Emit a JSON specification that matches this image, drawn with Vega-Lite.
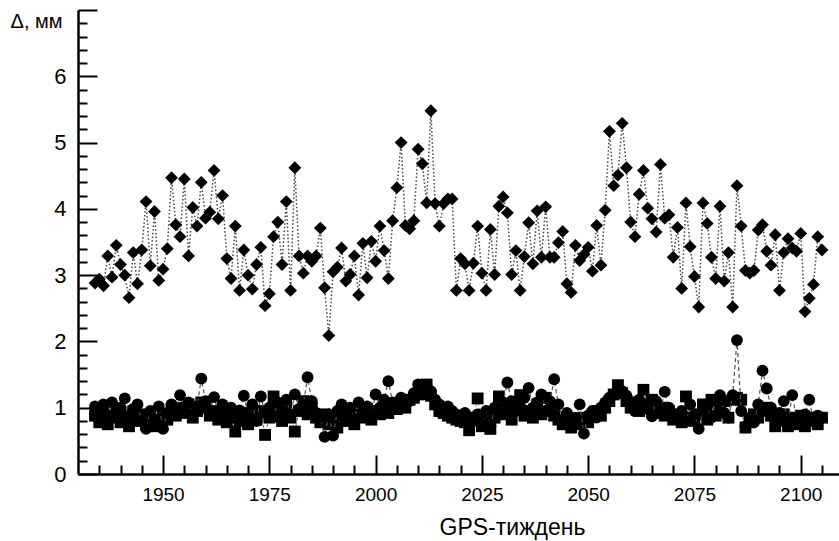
{
  "$schema": "https://vega.github.io/schema/vega-lite/v6.json",
  "width": 761,
  "height": 464,
  "autosize": "none",
  "padding": {"left": 78, "top": 10, "right": 0, "bottom": 67},
  "background": "white",
  "config": {"view": {"stroke": null}, "font": "Liberation Sans"},
  "datasets": {
    "d": [
      {"w":1934,"v":2.88},{"w":1935,"v":2.94},{"w":1936,"v":2.84},{"w":1937,"v":3.29},{"w":1938,"v":2.97},{"w":1939,"v":3.45},{"w":1940,"v":3.16},{"w":1941,"v":3.0},{"w":1942,"v":2.66},{"w":1943,"v":3.34},
      {"w":1944,"v":2.87},{"w":1945,"v":3.38},{"w":1946,"v":4.11},{"w":1947,"v":3.14},{"w":1948,"v":3.96},{"w":1949,"v":2.92},{"w":1950,"v":3.09},{"w":1951,"v":3.40},{"w":1952,"v":4.47},{"w":1953,"v":3.76},
      {"w":1954,"v":3.58},{"w":1955,"v":4.45},{"w":1956,"v":3.29},{"w":1957,"v":4.02},{"w":1958,"v":3.74},{"w":1959,"v":4.40},{"w":1960,"v":3.86},{"w":1961,"v":3.95},{"w":1962,"v":4.58},{"w":1963,"v":3.85},
      {"w":1964,"v":4.20},{"w":1965,"v":3.25},{"w":1966,"v":2.95},{"w":1967,"v":3.74},{"w":1968,"v":2.77},{"w":1969,"v":3.38},{"w":1970,"v":3.0},{"w":1971,"v":2.79},{"w":1972,"v":3.16},{"w":1973,"v":3.42},
      {"w":1974,"v":2.54},{"w":1975,"v":2.72},{"w":1976,"v":3.58},{"w":1977,"v":3.80},{"w":1978,"v":3.16},{"w":1979,"v":4.11},{"w":1980,"v":2.77},{"w":1981,"v":4.62},{"w":1982,"v":3.29},{"w":1983,"v":3.03},
      {"w":1984,"v":3.29},{"w":1985,"v":3.21},{"w":1986,"v":3.29},{"w":1987,"v":3.71},{"w":1988,"v":2.81},{"w":1989,"v":2.09},{"w":1990,"v":3.05},{"w":1991,"v":3.12},{"w":1992,"v":3.41},{"w":1993,"v":2.91},
      {"w":1994,"v":3.01},{"w":1995,"v":3.29},{"w":1996,"v":2.70},{"w":1997,"v":3.48},{"w":1998,"v":2.96},{"w":1999,"v":3.51},{"w":2000,"v":3.21},{"w":2001,"v":3.74},{"w":2002,"v":3.37},{"w":2003,"v":2.95},
      {"w":2004,"v":3.82},{"w":2005,"v":4.32},{"w":2006,"v":5.0},{"w":2007,"v":3.75},{"w":2008,"v":3.70},{"w":2009,"v":3.82},{"w":2010,"v":4.90},{"w":2011,"v":4.68},{"w":2012,"v":4.09},{"w":2013,"v":5.48},
      {"w":2014,"v":4.08},{"w":2015,"v":3.74},{"w":2016,"v":4.08},{"w":2017,"v":4.15},{"w":2018,"v":4.15},{"w":2019,"v":2.77},{"w":2020,"v":3.25},{"w":2021,"v":3.17},{"w":2022,"v":2.77},{"w":2023,"v":3.18},
      {"w":2024,"v":3.74},{"w":2025,"v":3.03},{"w":2026,"v":2.77},{"w":2027,"v":3.69},{"w":2028,"v":3.01},{"w":2029,"v":4.04},{"w":2030,"v":4.18},{"w":2031,"v":3.94},{"w":2032,"v":3.01},{"w":2033,"v":3.37},
      {"w":2034,"v":2.77},{"w":2035,"v":3.28},{"w":2036,"v":3.79},{"w":2037,"v":3.17},{"w":2038,"v":3.97},{"w":2039,"v":3.27},{"w":2040,"v":4.03},{"w":2041,"v":3.27},{"w":2042,"v":3.27},{"w":2043,"v":3.49},
      {"w":2044,"v":3.66},{"w":2045,"v":2.87},{"w":2046,"v":2.74},{"w":2047,"v":3.45},{"w":2048,"v":3.22},{"w":2049,"v":3.31},{"w":2050,"v":3.42},{"w":2051,"v":3.06},{"w":2052,"v":3.75},{"w":2053,"v":3.15},
      {"w":2054,"v":3.98},{"w":2055,"v":5.17},{"w":2056,"v":4.35},{"w":2057,"v":4.51},{"w":2058,"v":5.29},{"w":2059,"v":4.62},{"w":2060,"v":3.80},{"w":2061,"v":3.58},{"w":2062,"v":4.22},{"w":2063,"v":4.58},
      {"w":2064,"v":4.01},{"w":2065,"v":3.85},{"w":2066,"v":3.65},{"w":2067,"v":4.67},{"w":2068,"v":3.86},{"w":2069,"v":3.91},{"w":2070,"v":3.27},{"w":2071,"v":3.72},{"w":2072,"v":2.80},{"w":2073,"v":4.09},
      {"w":2074,"v":3.43},{"w":2075,"v":2.98},{"w":2076,"v":2.52},{"w":2077,"v":4.09},{"w":2078,"v":3.78},{"w":2079,"v":3.27},{"w":2080,"v":2.95},{"w":2081,"v":4.04},{"w":2082,"v":2.91},{"w":2083,"v":3.34},
      {"w":2084,"v":2.52},{"w":2085,"v":4.35},{"w":2086,"v":3.74},{"w":2087,"v":3.07},{"w":2088,"v":3.03},{"w":2089,"v":3.07},{"w":2090,"v":3.68},{"w":2091,"v":3.76},{"w":2092,"v":3.36},{"w":2093,"v":3.15},
      {"w":2094,"v":3.61},{"w":2095,"v":2.77},{"w":2096,"v":3.34},{"w":2097,"v":3.55},{"w":2098,"v":3.41},{"w":2099,"v":3.36},{"w":2100,"v":3.63},{"w":2101,"v":2.45},{"w":2102,"v":2.65},{"w":2103,"v":2.86},
      {"w":2104,"v":3.58},{"w":2105,"v":3.38}
    ],
    "c": [
      {"w":1934,"v":1.02},{"w":1935,"v":0.95},{"w":1936,"v":1.05},{"w":1937,"v":0.88},{"w":1938,"v":1.08},{"w":1939,"v":0.92},{"w":1940,"v":1.0},{"w":1941,"v":1.14},{"w":1942,"v":0.85},{"w":1943,"v":0.98},
      {"w":1944,"v":1.05},{"w":1945,"v":0.8},{"w":1946,"v":0.68},{"w":1947,"v":0.95},{"w":1948,"v":0.82},{"w":1949,"v":1.02},{"w":1950,"v":0.68},{"w":1951,"v":0.92},{"w":1952,"v":1.05},{"w":1953,"v":0.98},
      {"w":1954,"v":1.19},{"w":1955,"v":0.95},{"w":1956,"v":1.08},{"w":1957,"v":0.9},{"w":1958,"v":1.02},{"w":1959,"v":1.44},{"w":1960,"v":1.1},{"w":1961,"v":0.95},{"w":1962,"v":1.16},{"w":1963,"v":0.92},
      {"w":1964,"v":1.05},{"w":1965,"v":0.88},{"w":1966,"v":1.0},{"w":1967,"v":0.85},{"w":1968,"v":0.96},{"w":1969,"v":1.18},{"w":1970,"v":0.9},{"w":1971,"v":1.05},{"w":1972,"v":0.8},{"w":1973,"v":1.17},
      {"w":1974,"v":0.92},{"w":1975,"v":1.0},{"w":1976,"v":0.86},{"w":1977,"v":1.08},{"w":1978,"v":0.95},{"w":1979,"v":1.12},{"w":1980,"v":0.9},{"w":1981,"v":1.2},{"w":1982,"v":0.98},{"w":1983,"v":1.05},
      {"w":1984,"v":1.46},{"w":1985,"v":1.1},{"w":1986,"v":0.92},{"w":1987,"v":0.85},{"w":1988,"v":0.56},{"w":1989,"v":0.9},{"w":1990,"v":0.58},{"w":1991,"v":0.95},{"w":1992,"v":1.05},{"w":1993,"v":0.88},
      {"w":1994,"v":1.0},{"w":1995,"v":0.82},{"w":1996,"v":1.08},{"w":1997,"v":0.95},{"w":1998,"v":1.02},{"w":1999,"v":0.9},{"w":2000,"v":1.2},{"w":2001,"v":1.0},{"w":2002,"v":1.12},{"w":2003,"v":1.4},
      {"w":2004,"v":1.08},{"w":2005,"v":0.98},{"w":2006,"v":1.15},{"w":2007,"v":1.05},{"w":2008,"v":1.1},{"w":2009,"v":1.22},{"w":2010,"v":1.35},{"w":2011,"v":1.28},{"w":2012,"v":1.2},{"w":2013,"v":1.25},
      {"w":2014,"v":1.12},{"w":2015,"v":1.05},{"w":2016,"v":0.98},{"w":2017,"v":1.02},{"w":2018,"v":0.95},{"w":2019,"v":0.9},{"w":2020,"v":0.88},{"w":2021,"v":0.92},{"w":2022,"v":0.85},{"w":2023,"v":0.8},
      {"w":2024,"v":0.9},{"w":2025,"v":0.75},{"w":2026,"v":0.95},{"w":2027,"v":0.72},{"w":2028,"v":1.0},{"w":2029,"v":0.92},{"w":2030,"v":1.08},{"w":2031,"v":1.38},{"w":2032,"v":1.1},{"w":2033,"v":0.95},
      {"w":2034,"v":1.02},{"w":2035,"v":1.15},{"w":2036,"v":1.3},{"w":2037,"v":1.0},{"w":2038,"v":1.08},{"w":2039,"v":1.2},{"w":2040,"v":0.95},{"w":2041,"v":1.1},{"w":2042,"v":1.43},{"w":2043,"v":1.05},
      {"w":2044,"v":0.82},{"w":2045,"v":0.92},{"w":2046,"v":0.78},{"w":2047,"v":0.85},{"w":2048,"v":1.05},{"w":2049,"v":0.61},{"w":2050,"v":0.88},{"w":2051,"v":0.95},{"w":2052,"v":0.85},{"w":2053,"v":1.0},
      {"w":2054,"v":1.08},{"w":2055,"v":1.15},{"w":2056,"v":1.2},{"w":2057,"v":1.3},{"w":2058,"v":1.25},{"w":2059,"v":1.18},{"w":2060,"v":1.05},{"w":2061,"v":0.95},{"w":2062,"v":1.12},{"w":2063,"v":1.05},
      {"w":2064,"v":0.98},{"w":2065,"v":0.87},{"w":2066,"v":1.1},{"w":2067,"v":0.95},{"w":2068,"v":1.24},{"w":2069,"v":1.0},{"w":2070,"v":0.9},{"w":2071,"v":0.85},{"w":2072,"v":0.95},{"w":2073,"v":0.8},
      {"w":2074,"v":1.05},{"w":2075,"v":0.9},{"w":2076,"v":0.68},{"w":2077,"v":0.95},{"w":2078,"v":1.02},{"w":2079,"v":0.85},{"w":2080,"v":1.1},{"w":2081,"v":1.19},{"w":2082,"v":0.92},{"w":2083,"v":0.85},
      {"w":2084,"v":1.19},{"w":2085,"v":2.02},{"w":2086,"v":0.95},{"w":2087,"v":0.72},{"w":2088,"v":0.85},{"w":2089,"v":0.78},{"w":2090,"v":1.05},{"w":2091,"v":1.56},{"w":2092,"v":1.29},{"w":2093,"v":1.0},
      {"w":2094,"v":0.85},{"w":2095,"v":0.92},{"w":2096,"v":1.1},{"w":2097,"v":0.8},{"w":2098,"v":1.19},{"w":2099,"v":0.85},{"w":2100,"v":0.75},{"w":2101,"v":0.9},{"w":2102,"v":1.12},{"w":2103,"v":0.8},
      {"w":2104,"v":0.88},{"w":2105,"v":0.85}
    ],
    "q": [
      {"w":1934,"v":0.88},{"w":1935,"v":0.78},{"w":1936,"v":0.95},{"w":1937,"v":0.75},{"w":1938,"v":0.85},{"w":1939,"v":0.92},{"w":1940,"v":0.78},{"w":1941,"v":0.88},{"w":1942,"v":0.72},{"w":1943,"v":0.95},
      {"w":1944,"v":0.8},{"w":1945,"v":0.9},{"w":1946,"v":0.75},{"w":1947,"v":0.85},{"w":1948,"v":0.72},{"w":1949,"v":0.8},{"w":1950,"v":0.9},{"w":1951,"v":0.82},{"w":1952,"v":0.98},{"w":1953,"v":0.88},
      {"w":1954,"v":1.0},{"w":1955,"v":0.92},{"w":1956,"v":1.05},{"w":1957,"v":0.85},{"w":1958,"v":0.95},{"w":1959,"v":1.08},{"w":1960,"v":1.0},{"w":1961,"v":0.88},{"w":1962,"v":0.95},{"w":1963,"v":0.82},
      {"w":1964,"v":0.9},{"w":1965,"v":0.78},{"w":1966,"v":0.85},{"w":1967,"v":0.64},{"w":1968,"v":0.8},{"w":1969,"v":0.92},{"w":1970,"v":0.75},{"w":1971,"v":0.88},{"w":1972,"v":0.82},{"w":1973,"v":0.95},
      {"w":1974,"v":0.59},{"w":1975,"v":0.85},{"w":1976,"v":1.17},{"w":1977,"v":0.92},{"w":1978,"v":0.8},{"w":1979,"v":1.0},{"w":1980,"v":0.85},{"w":1981,"v":0.64},{"w":1982,"v":0.95},{"w":1983,"v":1.1},
      {"w":1984,"v":0.9},{"w":1985,"v":1.0},{"w":1986,"v":0.85},{"w":1987,"v":0.78},{"w":1988,"v":0.9},{"w":1989,"v":0.75},{"w":1990,"v":0.82},{"w":1991,"v":0.7},{"w":1992,"v":0.88},{"w":1993,"v":0.8},
      {"w":1994,"v":0.95},{"w":1995,"v":0.75},{"w":1996,"v":0.9},{"w":1997,"v":0.85},{"w":1998,"v":0.98},{"w":1999,"v":0.82},{"w":2000,"v":0.95},{"w":2001,"v":0.9},{"w":2002,"v":1.0},{"w":2003,"v":0.92},
      {"w":2004,"v":1.05},{"w":2005,"v":0.98},{"w":2006,"v":1.08},{"w":2007,"v":1.0},{"w":2008,"v":1.12},{"w":2009,"v":1.15},{"w":2010,"v":1.2},{"w":2011,"v":1.28},{"w":2012,"v":1.35},{"w":2013,"v":1.18},
      {"w":2014,"v":1.05},{"w":2015,"v":0.95},{"w":2016,"v":0.92},{"w":2017,"v":0.88},{"w":2018,"v":0.85},{"w":2019,"v":0.82},{"w":2020,"v":0.8},{"w":2021,"v":0.78},{"w":2022,"v":0.66},{"w":2023,"v":0.85},
      {"w":2024,"v":1.14},{"w":2025,"v":0.72},{"w":2026,"v":0.8},{"w":2027,"v":0.68},{"w":2028,"v":0.85},{"w":2029,"v":1.17},{"w":2030,"v":0.9},{"w":2031,"v":0.95},{"w":2032,"v":0.82},{"w":2033,"v":1.0},
      {"w":2034,"v":1.19},{"w":2035,"v":0.88},{"w":2036,"v":0.95},{"w":2037,"v":0.85},{"w":2038,"v":1.05},{"w":2039,"v":0.9},{"w":2040,"v":1.15},{"w":2041,"v":0.95},{"w":2042,"v":0.88},{"w":2043,"v":0.82},
      {"w":2044,"v":0.75},{"w":2045,"v":0.85},{"w":2046,"v":0.7},{"w":2047,"v":0.8},{"w":2048,"v":0.75},{"w":2049,"v":0.85},{"w":2050,"v":0.78},{"w":2051,"v":0.9},{"w":2052,"v":0.95},{"w":2053,"v":0.88},
      {"w":2054,"v":1.0},{"w":2055,"v":1.1},{"w":2056,"v":1.2},{"w":2057,"v":1.34},{"w":2058,"v":1.22},{"w":2059,"v":1.1},{"w":2060,"v":1.0},{"w":2061,"v":1.08},{"w":2062,"v":0.95},{"w":2063,"v":1.27},
      {"w":2064,"v":1.05},{"w":2065,"v":1.12},{"w":2066,"v":0.92},{"w":2067,"v":1.0},{"w":2068,"v":0.88},{"w":2069,"v":0.95},{"w":2070,"v":0.82},{"w":2071,"v":0.9},{"w":2072,"v":0.78},{"w":2073,"v":1.17},
      {"w":2074,"v":0.85},{"w":2075,"v":0.8},{"w":2076,"v":0.9},{"w":2077,"v":1.05},{"w":2078,"v":0.82},{"w":2079,"v":1.12},{"w":2080,"v":0.88},{"w":2081,"v":0.95},{"w":2082,"v":1.1},{"w":2083,"v":0.85},
      {"w":2084,"v":1.12},{"w":2085,"v":1.15},{"w":2086,"v":1.12},{"w":2087,"v":0.7},{"w":2088,"v":0.78},{"w":2089,"v":0.9},{"w":2090,"v":0.85},{"w":2091,"v":0.95},{"w":2092,"v":1.0},{"w":2093,"v":0.88},
      {"w":2094,"v":0.72},{"w":2095,"v":0.8},{"w":2096,"v":0.9},{"w":2097,"v":0.72},{"w":2098,"v":0.85},{"w":2099,"v":0.75},{"w":2100,"v":0.88},{"w":2101,"v":0.72},{"w":2102,"v":0.8},{"w":2103,"v":0.85},
      {"w":2104,"v":0.75},{"w":2105,"v":0.85}
    ]
  },
  "encoding": {
    "x": {
      "field": "w", "type": "quantitative",
      "scale": {"domain": [1930, 2109], "nice": false, "zero": false},
      "axis": {
        "values": [1935,1940,1945,1950,1955,1960,1965,1970,1975,1980,1985,1990,1995,2000,2005,2010,2015,2020,2025,2030,2035,2040,2045,2050,2055,2060,2065,2070,2075,2080,2085,2090,2095,2100,2105],
        "format": "d",
        "labelExpr": "datum.value % 25 === 0 ? datum.label : ''",
        "tickSize": {"condition": {"test": "datum.value % 25 === 0", "value": -19}, "value": -9},
        "tickWidth": 2, "tickColor": "black",
        "domainColor": "black", "domainWidth": 2.5,
        "labelFontSize": 19, "labelColor": "black", "labelPadding": 30, "labelFlush": false, "labelOverlap": false,
        "grid": false,
        "title": "GPS-тиждень", "titleFontSize": 23, "titleFontWeight": "normal", "titleColor": "black",
        "titleX": 434, "titleY": 53, "titleAlign": "center", "titleBaseline": "middle", "titleAnchor": null
      }
    },
    "y": {
      "field": "v", "type": "quantitative",
      "scale": {"domain": [0, 7], "nice": false},
      "axis": {
        "values": [0,0.2,0.4,0.6,0.8,1,1.2,1.4,1.6,1.8,2,2.2,2.4,2.6,2.8,3,3.2,3.4,3.6,3.8,4,4.2,4.4,4.6,4.8,5,5.2,5.4,5.6,5.8,6,6.2,6.4,6.6,6.8,7],
        "labelExpr": "(datum.value % 1 === 0 && datum.value < 7) ? format(datum.value, 'd') : ''",
        "tickSize": {"condition": {"test": "datum.value % 1 === 0", "value": -19}, "value": -9},
        "tickWidth": 2, "tickColor": "black",
        "domainColor": "black", "domainWidth": 2.5,
        "labelFontSize": 22, "labelColor": "black", "labelPadding": 31, "labelFlush": false, "labelOverlap": false,
        "grid": false,
        "title": "Δ, мм", "titleFontSize": 20, "titleFontWeight": "normal", "titleColor": "black", "titleAngle": 0,
        "titleX": -42, "titleY": 11, "titleAlign": "center", "titleBaseline": "middle", "titleAnchor": null
      }
    }
  },
  "layer": [
    {"data": {"name": "q"}, "mark": {"type": "line", "stroke": "#666", "strokeWidth": 1, "strokeDash": [3, 3]}},
    {"data": {"name": "q"}, "mark": {"type": "point", "shape": "square", "filled": true, "color": "black", "size": 140, "opacity": 1}},
    {"data": {"name": "c"}, "mark": {"type": "line", "stroke": "#555", "strokeWidth": 1.2, "strokeDash": [4, 3]}},
    {"data": {"name": "c"}, "mark": {"type": "point", "shape": "circle", "filled": true, "color": "black", "size": 140, "opacity": 1}},
    {"data": {"name": "d"}, "mark": {"type": "line", "stroke": "#444", "strokeWidth": 1.5, "strokeDash": [1.5, 2.2]}},
    {"data": {"name": "d"}, "mark": {"type": "point", "shape": "diamond", "filled": true, "color": "black", "size": 165, "opacity": 1}}
  ]
}
